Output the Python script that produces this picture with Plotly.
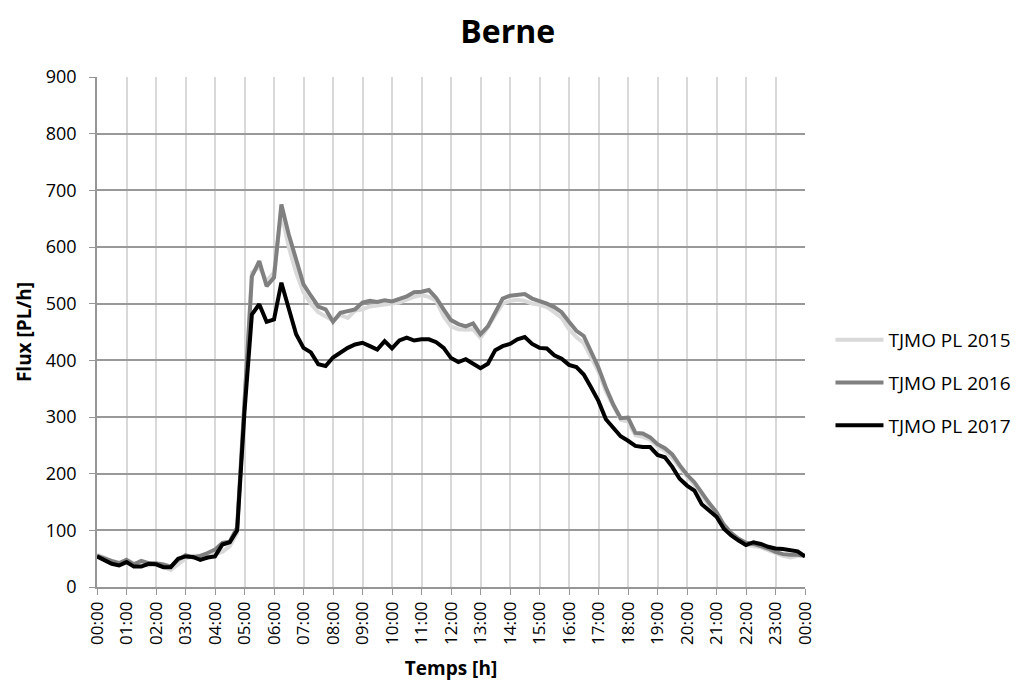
import plotly.graph_objects as go

hours = [i * 0.25 for i in range(97)]

tjmo_2015 = [57, 52, 45, 43, 47, 42, 40, 38, 40, 36, 30, 40, 50, 55, 55, 52,
             58, 62, 72, 95, 320, 555, 565, 540, 555, 660, 600, 555, 520, 500, 485, 478,
             470, 480, 475, 488, 490, 495, 497, 498, 500, 502, 507, 512, 515, 512, 505, 478,
             460, 455, 454, 455, 440, 458, 480, 500, 505, 507, 505, 500, 498, 494, 485, 475,
             455, 441, 430, 405, 380, 345, 318, 295, 292, 268, 265, 260, 248, 240, 228, 210,
             195, 180, 160, 145, 128, 108, 92, 82, 75, 72, 70, 65, 60, 55, 52, 55, 55]

tjmo_2016 = [55, 50, 46, 42, 48, 40, 46, 42, 42, 40, 36, 48, 56, 52, 55, 60,
             66, 78, 80, 105, 330, 548, 575, 531, 546, 675, 622, 575, 534, 514, 495, 490,
             468, 484, 487, 490, 502, 505, 503, 506, 504, 508, 513, 520, 521, 524, 510, 490,
             471, 464, 460, 465, 446, 460, 485, 509, 514, 516, 517, 509, 505, 500, 494, 485,
             468, 452, 443, 416, 387, 352, 322, 298, 299, 272, 271, 264, 252, 245, 234, 215,
             198, 185, 165, 148, 132, 110, 95, 85, 78, 76, 72, 68, 62, 58, 57, 57, 55]

tjmo_2017 = [54, 48, 41, 38, 44, 36, 36, 41, 40, 35, 35, 50, 54, 53, 48, 52,
             54, 75, 79, 100, 310, 481, 499, 468, 472, 537, 493, 446, 422, 414, 393, 390,
             405, 414, 422, 428, 431, 425, 419, 434, 421, 435, 440, 435, 437, 437, 432, 422,
             404, 397, 402, 394, 386, 394, 418, 425, 429, 437, 441, 429, 422, 421, 409, 403,
             392, 388, 375, 352, 328, 296, 281, 266, 258, 249, 247, 247, 233, 229, 212, 191,
             179, 170, 146, 135, 124, 103, 91, 82, 74, 79, 76, 71, 68, 67, 65, 63, 54]

tick_hours = list(range(25))
tick_labels = ["%02d:00" % (h % 24) for h in tick_hours]

series = [
    ("TJMO PL 2015", tjmo_2015, "#d9d9d9"),
    ("TJMO PL 2016", tjmo_2016, "#808080"),
    ("TJMO PL 2017", tjmo_2017, "#000000"),
]

font_family = "'Open Sans', sans-serif"

fig = go.Figure()
for i, (name, vals, color) in enumerate(series):
    fig.add_trace(go.Scatter(
        x=hours, y=vals, mode="lines", name=name,
        line=dict(color=color, width=4),
        legendgroup="g%d" % i,
    ))

fig.update_layout(
    width=1020, height=689,
    paper_bgcolor="white", plot_bgcolor="white",
    margin=dict(l=89, r=223, t=69, b=110),
    font=dict(family=font_family, size=17, color="#000000"),
    title=dict(text="<b>Berne</b>", x=0.49, xanchor="center", y=0.965, yanchor="middle",
               font=dict(size=32, family=font_family, color="#000000")),
    showlegend=True,
    legend=dict(x=1.036, y=0.4, xanchor="left", yanchor="middle",
                traceorder="grouped", tracegroupgap=15, itemwidth=48,
                font=dict(size=19, family=font_family, color="#000000"),
                bgcolor="rgba(0,0,0,0)"),
    xaxis=dict(
        range=[0, 24], tickmode="array", tickvals=tick_hours, ticktext=tick_labels,
        tickangle=-90, showgrid=True, gridcolor="#d9d9d9", gridwidth=1.5,
        showline=True, linecolor="#969696", linewidth=1.5,
        ticks="outside", ticklen=6, tickcolor="#969696",
        tickfont=dict(size=17), zeroline=False,
        title=dict(text="<b>Temps [h]</b>", font=dict(size=19), standoff=18),
    ),
    yaxis=dict(
        range=[0, 900], tickmode="linear", tick0=0, dtick=100,
        showgrid=True, gridcolor="#999999", gridwidth=1.5,
        showline=True, linecolor="#969696", linewidth=1.5,
        ticks="outside", ticklen=6, tickcolor="#969696",
        tickfont=dict(size=18), zeroline=False, ticklabelstandoff=9,
        title=dict(text="<b>Flux [PL/h]</b>", font=dict(size=19), standoff=9),
    ),
)

fig.write_html("out.html")
